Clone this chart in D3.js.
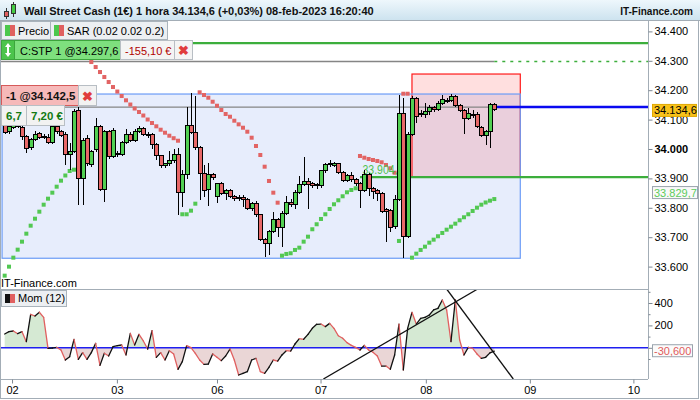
<!DOCTYPE html>
<html><head><meta charset="utf-8">
<script src="https://cdn.jsdelivr.net/npm/d3@7"></script>
<style>
html,body{margin:0;padding:0;background:#fff;}
svg{display:block;font-family:"Liberation Sans",Arial,sans-serif;}
</style></head><body>
<svg id="c" width="700" height="400"></svg>
<script>
// ---------------- DATA ----------------
const openP = [34079.2,34058.8,34074.8,34098.6,34072.4,34041.8,34005.8,34034.0,34052.0,34044.0,
34040.0,34022.8,34075.8,34058.8,34050.0,33979.6,33990.8,34132.6,33900.4,34036.4,
33948.0,33996.6,34075.8,33863.0,34058.8,33973.8,33985.4,33982.0,34022.8,34050.0,
34030.6,34058.8,34070.4,34050.0,34050.0,34016.0,33976.2,33942.2,33949.0,33959.2,
33982.0,33852.8,33911.6,34081.6,34056.8,34005.8,33917.4,33863.0,33911.6,33837.8,
33881.0,33849.4,33857.2,33837.8,33835.8,33835.8,33829.0,33798.4,33815.4,33775.6,
33693.0,33679.4,33718.8,33761.0,33732.4,33781.4,33818.8,33809.6,33852.8,33880.0,
33888.8,33881.0,33874.8,33874.2,33925.2,33945.6,33944.6,33949.0,33920.8,33892.2,
33909.2,33897.0,33883.4,33858.2,33911.6,33866.4,33857.2,33849.4,33792.6,33789.2,
33735.8,33829.0,34121.4,33701.8,34050.0,34172.4,34121.4,34118.0,34129.2,34140.4,
34135.0,34155.4,34164.2,34164.2,34180.2,34148.6,34130.2,34104.4,34119.0,34118.0,
34073.8,34045.2,34058.8,34152.0];
const highP = [34091.8,34085.0,34112.2,34108.8,34081.6,34047.6,34037.4,34061.2,34057.8,34051.0,
34051.0,34125.8,34098.6,34064.6,34057.8,34019.4,34136.0,34142.8,34037.4,34047.6,
33996.6,34105.4,34081.6,34064.6,34064.6,34071.4,33993.2,34027.2,34068.0,34057.8,
34068.0,34078.2,34074.8,34058.8,34054.4,34020.4,33979.6,33952.4,33993.2,34000.0,
34003.4,33928.6,34143.8,34189.4,34181.2,34010.2,33945.6,33952.4,33918.4,33884.4,
33887.8,33864.0,33864.0,33843.6,33843.6,33843.6,33833.4,33819.8,33823.2,33779.0,
33697.4,33724.6,33785.8,33765.4,33789.2,33840.2,33830.0,33860.6,33908.2,33973.8,
33901.4,33887.8,33884.4,33928.6,33952.4,33962.6,33955.8,33952.4,33925.2,33915.0,
33921.8,33901.4,33887.8,33928.6,33918.4,33870.8,33864.0,33853.8,33799.4,33796.0,
33843.6,34183.6,34173.4,34057.8,34180.2,34176.8,34132.6,34156.4,34149.6,34146.2,
34163.2,34183.6,34173.4,34187.0,34183.6,34153.0,34136.0,34139.4,34132.6,34125.8,
34078.2,34064.6,34156.4,34156.4];
const lowP = [34051.0,34051.0,34068.0,34071.4,34030.6,33987.4,33996.6,34027.2,34034.0,34034.0,
34017.0,34017.0,34051.0,34040.8,33945.6,33928.6,33986.4,33809.6,33809.6,33942.2,
33938.8,33989.8,33857.2,33820.8,33966.0,33969.4,33972.8,33976.2,34017.0,34023.8,
34023.8,34054.4,34044.2,34038.4,34000.0,33962.6,33935.4,33935.4,33942.2,33952.4,
33775.6,33803.8,33898.0,34051.0,33996.6,33826.6,33837.8,33807.2,33894.6,33816.4,
33843.6,33826.6,33833.4,33823.2,33823.2,33802.8,33792.6,33789.2,33768.8,33687.2,
33632.8,33639.6,33714.4,33700.8,33667.8,33775.6,33802.8,33796.0,33847.0,33874.2,
33796.0,33867.4,33864.0,33867.4,33918.4,33938.8,33938.8,33915.0,33887.8,33887.8,
33887.8,33874.2,33798.4,33853.8,33840.2,33830.0,33823.2,33782.4,33684.8,33717.8,
33728.0,33823.2,33628.4,33697.4,34044.2,34088.4,34108.8,34105.4,34115.6,34125.8,
34129.2,34149.6,34156.4,34159.8,34142.8,34125.8,34051.0,34098.6,34105.4,34071.4,
34040.8,34013.6,34003.4,34129.2];
const closeP = [34056.8,34075.8,34098.6,34078.2,34041.8,34002.4,34033.0,34050.0,34040.0,34041.0,
34022.8,34075.8,34058.8,34047.6,33979.6,33990.8,34126.8,33900.4,34030.6,33949.0,
33991.0,34075.8,33863.0,34058.8,33973.8,34062.2,33979.6,34021.4,34050.0,34030.6,
34061.2,34070.4,34050.0,34049.0,34016.0,33976.2,33942.2,33949.0,33959.2,33982.0,
33852.8,33911.6,34081.6,34056.8,34005.8,33917.4,33858.2,33911.6,33903.8,33881.0,
33849.4,33857.2,33837.8,33831.0,33831.0,33829.0,33798.4,33815.4,33775.6,33693.0,
33679.4,33718.8,33761.0,33732.4,33781.4,33818.8,33809.6,33852.8,33880.0,33888.8,
33880.0,33874.2,33877.6,33925.2,33945.6,33951.4,33949.0,33920.8,33892.2,33909.2,
33894.6,33881.0,33858.2,33911.6,33866.4,33854.8,33849.4,33786.8,33786.8,33732.4,
33829.0,34121.4,33701.8,34050.0,34172.4,34112.2,34118.0,34129.2,34140.4,34135.0,
34155.4,34169.0,34162.5,34180.2,34148.6,34132.6,34104.4,34121.4,34113.9,34075.8,
34047.6,34058.8,34152.0,34134.6];

const sarValues = [33569.2,33599.8,33630.4,33657.6,33684.8,33712.0,33739.2,33763.0,33786.8,33810.6,
33831.0,33851.4,33871.8,33892.2,33909.9,33925.2,33929.6,
34346.8,34329.8,34312.8,34295.8,34278.8,34261.8,34244.8,34227.8,34210.8,34195.5,34180.2,34165.6,
34151.3,34137.7,34125.8,34113.9,34100.3,34088.4,34077.2,34065.6,34055.4,34045.2,34036.7,34028.2,
33778.0,33778.0,33790.2,33814.0,
34192.8,34183.6,34174.4,34160.8,34147.2,34132.6,34119.0,34109.8,34096.2,34083.9,34072.4,34058.8,
34038.4,34010.2,33979.6,33939.8,33891.2,33851.4,33817.4,
33637.2,33643.0,33645.4,33656.6,33664.4,33684.8,33701.8,33727.0,33744.0,33762.0,33778.0,33796.0,
33812.0,33825.6,33839.2,33852.8,33860.6,33866.4,
33976.2,33970.4,33966.0,33962.6,33959.2,33954.8,33945.6,33934.4,33919.4,
33687.2,
34188.0,34188.0,
33630.4,33644.0,33656.6,33667.8,33681.4,33691.6,33703.2,33714.4,33725.6,33735.8,33746.0,33757.6,
33767.8,33778.0,33789.2,33800.4,33810.6,33818.1,33824.2,33829.7];
const sarSides = "GGGGGGGGGGGGGGGGG" + "RRRRRRRRRRRRRRRRRRRRRRRR" + "GGGG" + "RRRRRRRRRRRRRRRRRRR" +
  "GGGGGGGGGGGGGGGGGG" + "RRRRRRRRR" + "G" + "RR" + "GGGGGGGGGGGGGGGGGGGG";

const momValues = [123,144,150,126,144,55,299,284,317,272,
-5,-2,4,-20,-109,-79,76,-103,-43,-103,
-43,40,-157,-49,-73,10,19,25,-64,129,
25,120,61,-11,153,-85,-43,-109,-26,-55,
-192,-124,19,1,-49,-109,-148,-145,-55,-85,
-115,-73,-11,-109,-243,-228,-213,-109,-94,-213,
-228,-174,-109,-118,-64,-26,-29,34,82,76,
120,174,210,212,189,218,174,108,85,46,
22,4,-20,22,-20,-40,-73,-163,-163,-192,
-64,212,-198,174,317,212,263,272,293,338,
352,427,338,55,427,70,-64,4,-5,-55,
-94,-85,-45,-30.6];

const dayTickIdx = [1.7, 25.9, 49, 72.9, 97.2, 121.2, 145.1];
const dayLabels = ["02","03","06","07","08","09","10"];
const priceTicks = [33600,33700,33800,33900,34000,34100,34200,34300,34400];
const momMajorTicks = [0,200,400];
const momLabeledTicks = [200,400];
const momMinorTicks = [-100,100,300,500];

const lastPrice = 34134.6, changePct = 0.03;
const entryLevel = 34142.5, stopLevel = 34297.6, targetLevel = 34360.4;
const levelSAR = 33904.1, sarLast = 33829.7, momLast = -30.6;
const rangeHigh = 34187.0, rangeLow = 33628.4, zoneTop = 34255.0;
const zoneStartIdx = 94, levelStartIdx = 82, boxEndIdx = 119, boxStartIdx = -0.6;
const trendA = [[73.56,-278.6],[109.17,525]];
const trendB = [[102.01,525],[117.38,-278.6]];
const posQty = -1, posPL = 7.20, posPts = 6.7, stopPL = -155.10;

// ---------------- SETUP ----------------
const loc = d3.formatLocale({decimal:",", thousands:".", grouping:[3], currency:["","€"], minus:"-"});
const f0 = loc.format(",.0f"), f1 = loc.format(",.1f"), f2 = loc.format(",.2f"), f3 = loc.format(",.3f");

const L = 1, R = 648, mainTop = 20, mainBot = 289, momBot = 379;
const x = d3.scaleLinear().domain([0,113]).range([4.67, 494.3]);
const y = d3.scaleLinear().domain([33600,34400]).range([266.6, 31.4]);
const ym = d3.scaleLinear().domain([0,400]).range([347.8, 303]);

const svg = d3.select("#c");
const defs = svg.append("defs");
const gh = defs.append("linearGradient").attr("id","hdr").attr("x1",0).attr("y1",0).attr("x2",0).attr("y2",1);
gh.append("stop").attr("offset","0%").attr("stop-color","#eef7fc");
gh.append("stop").attr("offset","100%").attr("stop-color","#cde3ef");
defs.append("clipPath").attr("id","cm").append("rect").attr("x",L).attr("y",mainTop).attr("width",R-L).attr("height",mainBot-mainTop);
defs.append("clipPath").attr("id","cmo").append("rect").attr("x",L).attr("y",mainBot).attr("width",R-L).attr("height",momBot-mainBot);

svg.append("rect").attr("width",700).attr("height",400).attr("fill","#fff");

// ---------------- MAIN PANEL ----------------
const gm = svg.append("g").attr("clip-path","url(#cm)");
const bx0 = x(boxStartIdx), bx1 = x(boxEndIdx);
gm.append("rect").attr("x",bx0).attr("y",y(rangeHigh)).attr("width",bx1-bx0).attr("height",y(rangeLow)-y(rangeHigh))
  .attr("fill","#e7edfc");
const zx0 = x(zoneStartIdx);
gm.append("rect").attr("x",zx0).attr("y",y(zoneTop)).attr("width",bx1-zx0).attr("height",y(levelSAR)-y(zoneTop))
  .attr("fill","rgba(255,40,40,0.15)").attr("stroke","#ff1a1a").attr("stroke-width",1.2);
gm.append("rect").attr("x",bx0).attr("y",y(rangeHigh)).attr("width",bx1-bx0).attr("height",y(rangeLow)-y(rangeHigh))
  .attr("fill","none").attr("stroke","#6c9cf6").attr("stroke-width",1.2);

const xl = x(113);
gm.append("line").attr("x1",L).attr("x2",R).attr("y1",y(targetLevel)).attr("y2",y(targetLevel)).attr("stroke","#3cae3c").attr("stroke-width",2.2);
gm.append("line").attr("x1",L).attr("x2",xl).attr("y1",y(stopLevel)).attr("y2",y(stopLevel)).attr("stroke","#858585").attr("stroke-width",1.3);
gm.append("line").attr("x1",xl).attr("x2",R).attr("y1",y(stopLevel)).attr("y2",y(stopLevel)).attr("stroke","#3cae3c").attr("stroke-width",1.6).attr("stroke-dasharray","3,5");
gm.append("line").attr("x1",L).attr("x2",xl).attr("y1",y(entryLevel)).attr("y2",y(entryLevel)).attr("stroke","#858585").attr("stroke-width",1.3);
gm.append("line").attr("x1",xl).attr("x2",R).attr("y1",y(entryLevel)).attr("y2",y(entryLevel)).attr("stroke","#0a0af0").attr("stroke-width",2.5);
gm.append("line").attr("x1",x(levelStartIdx)).attr("x2",R).attr("y1",y(levelSAR)).attr("y2",y(levelSAR)).attr("stroke","#3cae3c").attr("stroke-width",2.2);

// SAR dots
gm.append("g").selectAll("rect").data(sarValues).join("rect")
  .attr("x",(d,i)=>x(i)-2).attr("y",d=>y(d)-2).attr("width",4).attr("height",4)
  .attr("fill",(d,i)=>sarSides[i]==="G"?"#52c852":"#e26464");

gm.append("text").attr("x",x(levelStartIdx)+2.5).attr("y",y(levelSAR)-3).attr("font-size",13).attr("fill","#4fc24f")
  .attr("textLength",41).attr("lengthAdjust","spacingAndGlyphs").text(f1(levelSAR));

// candles
const candles = openP.map((o,i)=>({i,o,h:highP[i],l:lowP[i],c:closeP[i]}));
const gc = gm.append("g").attr("shape-rendering","crispEdges");
gc.selectAll("line").data(candles).join("line")
  .attr("x1",d=>Math.round(x(d.i))+0.5).attr("x2",d=>Math.round(x(d.i))+0.5)
  .attr("y1",d=>y(d.h)).attr("y2",d=>y(d.l)).attr("stroke","#000").attr("stroke-width",1);
gc.selectAll("rect").data(candles).join("rect")
  .attr("x",d=>Math.round(x(d.i))-1.5).attr("width",4)
  .attr("y",d=>y(Math.max(d.o,d.c)))
  .attr("height",d=>Math.max(1,y(Math.min(d.o,d.c))-y(Math.max(d.o,d.c))))
  .attr("fill",d=>d.c>=d.o?"#52d052":"#e86868").attr("stroke","#000").attr("stroke-width",1);

svg.append("text").attr("x",1).attr("y",287).attr("font-size",11).attr("fill","#000").text("IT-Finance.com");

// ---------------- MOMENTUM PANEL ----------------
const gmo = svg.append("g").attr("clip-path","url(#cmo)");
const pos=[], neg=[];
momValues.forEach((v,i)=>{
  if(i>0){const pv=momValues[i-1];
    if((pv>0&&v<0)||(pv<0&&v>0)){const t=pv/(pv-v);const ci=(i-1)+t;pos.push([ci,0]);neg.push([ci,0]);}}
  pos.push([i,Math.max(v,0)]); neg.push([i,Math.min(v,0)]);
});
const area = d3.area().x(d=>x(d[0])).y0(ym(0)).y1(d=>ym(d[1]));
gmo.append("path").attr("d",area(pos)).attr("fill","#d5e9d3");
gmo.append("path").attr("d",area(neg)).attr("fill","#ead6d6");
gmo.append("line").attr("x1",L).attr("x2",R).attr("y1",ym(0)).attr("y2",ym(0)).attr("stroke","#1f1ff0").attr("stroke-width",1.5);
gmo.append("g").selectAll("line").data(momValues.slice(1)).join("line")
  .attr("x1",(d,k)=>x(k)).attr("y1",(d,k)=>ym(momValues[k]))
  .attr("x2",(d,k)=>x(k+1)).attr("y2",d=>ym(d))
  .attr("stroke",(d,k)=>d>=momValues[k]?"#111":"#e06060").attr("stroke-width",1.3).attr("stroke-linecap","round");
[trendA,trendB].forEach(t=>{
  gmo.append("line").attr("x1",x(t[0][0])).attr("y1",ym(t[0][1])).attr("x2",x(t[1][0])).attr("y2",ym(t[1][1]))
    .attr("stroke","#111").attr("stroke-width",1.3);
});

// ---------------- FRAME & AXES ----------------
const gray = "#a3adb6";
svg.append("line").attr("x1",0).attr("x2",R).attr("y1",mainBot+0.5).attr("y2",mainBot+0.5).attr("stroke",gray);
svg.append("line").attr("x1",0).attr("x2",R).attr("y1",momBot+0.5).attr("y2",momBot+0.5).attr("stroke",gray);
svg.append("line").attr("x1",R+0.5).attr("x2",R+0.5).attr("y1",mainTop).attr("y2",momBot).attr("stroke",gray);
svg.append("rect").attr("x",0.5).attr("y",0.5).attr("width",698).attr("height",398).attr("fill","none").attr("stroke",gray);

function styleAxis(g){g.select(".domain").remove();g.selectAll("line").attr("stroke","#7d8790");g.selectAll("text").attr("font-size",11).attr("fill","#000").attr("font-family","Liberation Sans, Arial, sans-serif");}
const ay = svg.append("g").attr("transform",`translate(${R+0.5},0)`)
  .call(d3.axisRight(y).tickValues(priceTicks).tickSize(4).tickPadding(2).tickFormat(f0));
styleAxis(ay);
ay.selectAll("text").attr("font-weight",d=>d===34000?"bold":"normal");
const am1 = svg.append("g").attr("transform",`translate(${R+0.5},0)`)
  .call(d3.axisRight(ym).tickValues(momMajorTicks).tickSize(4).tickPadding(2)
  .tickFormat(d=>momLabeledTicks.includes(d)?String(d):""));
styleAxis(am1);
const am2 = svg.append("g").attr("transform",`translate(${R+0.5},0)`)
  .call(d3.axisRight(ym).tickValues(momMinorTicks).tickSize(2).tickFormat(""));
styleAxis(am2);
const ax = svg.append("g").attr("transform",`translate(0,${momBot+0.5})`)
  .call(d3.axisBottom(x).tickValues(dayTickIdx).tickSize(4).tickPadding(3).tickFormat((d,i)=>dayLabels[i]));
styleAxis(ax);

function valBox(yc, txt, fill, stroke, color, w){
  svg.append("rect").attr("x",652.5).attr("y",yc-6).attr("width",w).attr("height",12).attr("fill",fill).attr("stroke",stroke);
  svg.append("text").attr("x",654).attr("y",yc+4).attr("font-size",11).attr("fill",color).text(txt);
}
valBox(y(lastPrice)+1, f1(lastPrice), "#f8c21a", "#e0a800", "#000", 44);
valBox(y(sarLast)-6.5, f1(sarLast), "#f9f9f9", "#9aa4ad", "#5ccc5c", 45);
valBox(ym(momLast)-0.5, f3(momLast), "#fbfbfb", "#9aa4ad", "#e05c5c", 40);

// ---------------- HEADER & LABELS ----------------
svg.append("rect").attr("x",0).attr("y",0).attr("width",700).attr("height",20).attr("fill","url(#hdr)");
svg.append("line").attr("x1",0).attr("x2",700).attr("y1",20.5).attr("y2",20.5).attr("stroke",gray);
svg.append("line").attr("x1",6.5).attr("x2",6.5).attr("y1",8).attr("y2",19).attr("stroke","#333");
svg.append("rect").attr("x",4.5).attr("y",11.5).attr("width",4).attr("height",5).attr("fill","#e06060").attr("stroke","#333");
svg.append("line").attr("x1",13.5).attr("x2",13.5).attr("y1",2).attr("y2",17).attr("stroke","#333");
svg.append("rect").attr("x",11.5).attr("y",4.5).attr("width",4).attr("height",9).attr("fill","#44cc44").attr("stroke","#333");
svg.append("text").attr("x",24).attr("y",15).attr("font-size",11).attr("font-weight","bold").attr("fill","#111")
  .text(`Wall Street Cash (1€) 1 hora ${f1(lastPrice)} (+${f2(changePct)}%) 08-feb-2023 16:20:40`);
svg.append("text").attr("x",693).attr("y",15).attr("font-size",10).attr("font-weight","bold").attr("text-anchor","end").attr("fill","#111")
  .text("IT-Finance.com");

function legendBox(x0,y0,w,h,c1,c2,label){
  svg.append("rect").attr("x",x0+0.5).attr("y",y0+0.5).attr("width",w).attr("height",h).attr("fill","#eceff2").attr("stroke","#a9b3bb");
  svg.append("rect").attr("x",x0+4).attr("y",y0+4).attr("width",5).attr("height",h-7).attr("fill",c1);
  svg.append("rect").attr("x",x0+9).attr("y",y0+4).attr("width",5).attr("height",h-7).attr("fill",c2);
  svg.append("text").attr("x",x0+17).attr("y",y0+h-4).attr("font-size",11).attr("fill","#000").text(label);
}
legendBox(1,21,49,18,"#4cc84c","#e06060","Precio");
legendBox(50,21,117,18,"#4cc84c","#e06060","SAR (0.02 0.02 0.2)");
legendBox(1,290,65,16,"#111","#e06060","Mom (12)");

svg.append("rect").attr("x",1.5).attr("y",40.5).attr("width",119).attr("height",19).attr("fill","#7ee07e").attr("stroke","#3ca53c");
svg.append("rect").attr("x",1.5).attr("y",40.5).attr("width",13).attr("height",19).attr("fill","#4cc44c").attr("stroke","#3ca53c");
svg.append("path").attr("d","M8,43 L5,47 L7,47 L7,53 L5,53 L8,57 L11,53 L9,53 L9,47 L11,47 Z").attr("fill","#fff");
svg.append("text").attr("x",20).attr("y",55).attr("font-size",11).attr("fill","#000").text(`C:STP 1 @${f1(stopLevel)}`);
svg.append("rect").attr("x",120.5).attr("y",40.5).attr("width",54).attr("height",19).attr("fill","#f4f4f4").attr("stroke","#b8bec4");
svg.append("text").attr("x",125).attr("y",55).attr("font-size",11).attr("fill","#b00000").text(`${f2(stopPL)} €`);
svg.append("rect").attr("x",174.5).attr("y",40.5).attr("width",18).attr("height",19).attr("fill","#f4f4f4").attr("stroke","#b8bec4");
svg.append("text").attr("x",183.5).attr("y",55).attr("font-size",13).attr("font-weight","bold").attr("text-anchor","middle").attr("fill","#e03c3c").text("✖");

svg.append("rect").attr("x",1.5).attr("y",85.5).attr("width",77).attr("height",20).attr("fill","#f6b9b9").attr("stroke","#d65a5a");
svg.append("text").attr("x",6).attr("y",100).attr("font-size",11.5).attr("font-weight","bold").attr("fill","#111").text(`${posQty} @${f1(entryLevel)}`);
svg.append("rect").attr("x",78.5).attr("y",85.5).attr("width",18).attr("height",20).attr("fill","#f2f2f2").attr("stroke","#b8bec4");
svg.append("text").attr("x",87.5).attr("y",100.5).attr("font-size",13).attr("font-weight","bold").attr("text-anchor","middle").attr("fill","#e03c3c").text("✖");
svg.append("rect").attr("x",1.5).attr("y",105.5).attr("width",25).attr("height",20).attr("fill","#f2f2f2").attr("stroke","#b8bec4");
svg.append("text").attr("x",6).attr("y",120).attr("font-size",11.5).attr("font-weight","bold").attr("fill","#137a13").text(f1(posPts));
svg.append("rect").attr("x",26.5).attr("y",105.5).attr("width",38).attr("height",20).attr("fill","#f2f2f2").attr("stroke","#b8bec4");
svg.append("text").attr("x",31).attr("y",120).attr("font-size",11.5).attr("font-weight","bold").attr("fill","#137a13").text(`${f2(posPL)} €`);
</script>
</body></html>
